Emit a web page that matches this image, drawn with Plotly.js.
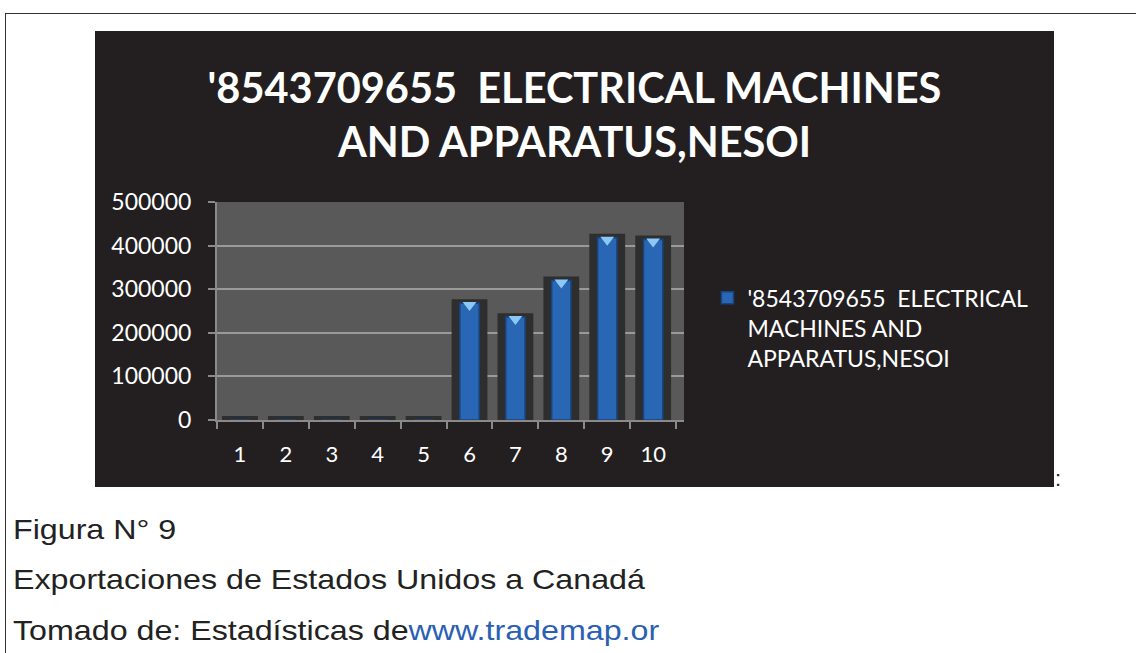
<!DOCTYPE html>
<html>
<head>
<meta charset="utf-8">
<script src="https://cdn.plot.ly/plotly-3.0.1.min.js"></script>
<style>
  html, body { margin:0; padding:0; background:#ffffff; width:1137px; height:653px; overflow:hidden; }
  #topline { position:absolute; left:5px; top:13px; width:1131px; height:0; border-top:1.5px solid #333; }
  #leftline { position:absolute; left:5px; top:13px; width:0; height:640px; border-left:1.5px solid #333; }
  #chart { position:absolute; left:95px; top:31px; width:959px; height:456px; }
  .cap { position:absolute; left:13px; font-family:"Liberation Sans", Arial, sans-serif; font-size:28px; color:#222; white-space:nowrap; transform:scaleX(1.15); transform-origin:0 0; }
  .cap a { color:#2b5fb3; text-decoration:none; }
  #colon { position:absolute; left:1055px; top:466px; font-family:"Liberation Sans", Arial, sans-serif; font-size:22px; color:#222; }
</style>
</head>
<body>
<div id="topline"></div>
<div id="leftline"></div>
<div id="chart"></div>
<div id="colon">:</div>
<div class="cap" style="top:514px;">Figura N° 9</div>
<div class="cap" style="top:564px;">Exportaciones de Estados Unidos a Canadá</div>
<div class="cap" style="top:615px;">Tomado de: Estadísticas de<a>www.trademap.or</a></div>
<script>
const categories = ["1","2","3","4","5","6","7","8","9","10"];
const values = [0, 0, 0, 0, 0, 268000, 236000, 320000, 418000, 414000];
const seriesName = "'8543709655  ELECTRICAL<br>MACHINES AND<br>APPARATUS,NESOI";
const chartTitle = "'8543709655  ELECTRICAL MACHINES<br>AND APPARATUS,NESOI";
const yTicks = [0, 100000, 200000, 300000, 400000, 500000];

const shadowPad = 9000;
const shadow = {
  type: 'bar', x: categories, y: values.map(v => v + shadowPad),
  width: 0.78, marker: { color: '#2e2e2e' }, showlegend: false, hoverinfo: 'skip'
};
const bars = {
  type: 'bar', x: categories, y: values, name: seriesName,
  width: 0.42,
  marker: { color: '#2966b3', line: { color: '#17457f', width: 1.5 } }
};
const tipsX = [], tipsY = [];
categories.forEach((c, i) => { if (values[i] > 0) { tipsX.push(c); tipsY.push(values[i]); } });
const tips = {
  type: 'scatter', mode: 'markers', x: tipsX, y: tipsY.map(v => v - 4500),
  marker: { symbol: 'triangle-down', size: 12, color: '#8cc8f5', line: { width: 0 } },
  showlegend: false, hoverinfo: 'skip', cliponaxis: false
};

const font = "Lato, 'Open Sans', sans-serif";
const layout = {
  width: 959, height: 456,
  paper_bgcolor: '#231f20', plot_bgcolor: '#595959',
  margin: { l: 122, r: 370, t: 171, b: 67 },
  barmode: 'overlay',
  font: { family: font, color: '#ffffff', size: 22 },
  title: {
    text: chartTitle, x: 0.5, xref: 'container', y: 0.843, yref: 'container', yanchor: 'top',
    font: { family: font, size: 41.5, color: '#ffffff', weight: 'bold' }
  },
  xaxis: {
    type: 'category', tickson: 'boundaries', ticks: 'outside', ticklen: 7, tickcolor: '#8a8a8a', tickwidth: 2,
    showline: true, linecolor: '#8a8a8a', linewidth: 2, showgrid: false,
    tickfont: { family: font, size: 22, color: '#ffffff' }, ticklabelstandoff: 14
  },
  yaxis: {
    range: [0, 500000], tickvals: yTicks, ticktext: yTicks.map(String),
    ticks: 'outside', ticklen: 7, tickcolor: '#8a8a8a', tickwidth: 2,
    showline: true, linecolor: '#8a8a8a', linewidth: 2,
    showgrid: true, gridcolor: '#9a9a9a', gridwidth: 2, zeroline: false,
    tickfont: { family: font, size: 23, color: '#ffffff' }, ticklabelstandoff: 12
  },
  legend: {
    xref: 'container', yref: 'container', x: 0.6386, y: 0.462, xanchor: 'left', yanchor: 'top',
    bgcolor: 'rgba(0,0,0,0)', font: { family: font, size: 23, color: '#ffffff' },
    itemwidth: 30, valign: 'top'
  },
  showlegend: true
};
Plotly.newPlot('chart', [shadow, bars, tips], layout, { displayModeBar: false, staticPlot: true });
</script>
</body>
</html>
